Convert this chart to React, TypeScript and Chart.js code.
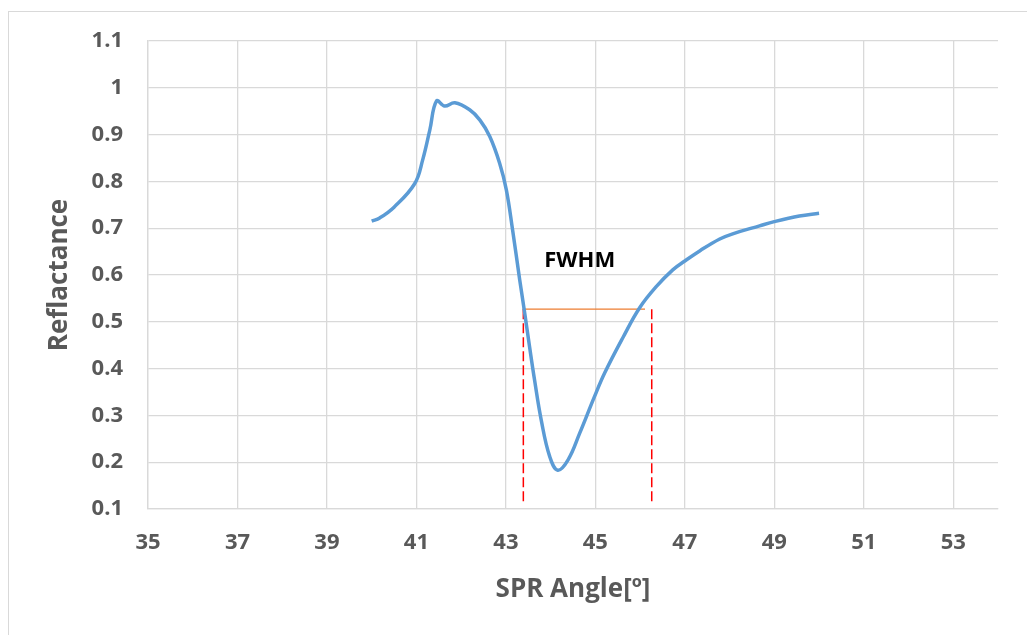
import React, { useEffect, useRef } from "react";
import { Chart, registerables } from "chart.js";

Chart.register(...registerables);

const angles = [40.0, 40.18, 40.5, 40.96, 41.14, 41.3, 41.45, 41.63, 41.86, 42.19, 42.42, 42.64, 42.86, 43.01, 43.15, 43.31, 43.42, 43.53, 43.64, 43.79, 43.98, 44.16, 44.39, 44.65, 44.98, 45.21, 45.62, 45.99, 46.36, 46.73, 47.0, 47.34, 47.78, 48.07, 48.67, 49.0, 49.56, 50.0];
const reflectance = [0.715, 0.722, 0.745, 0.795, 0.846, 0.91, 0.972, 0.961, 0.968, 0.953, 0.931, 0.896, 0.839, 0.782, 0.696, 0.589, 0.519, 0.446, 0.376, 0.29, 0.212, 0.183, 0.205, 0.262, 0.34, 0.391, 0.467, 0.53, 0.575, 0.611, 0.63, 0.652, 0.677, 0.688, 0.705, 0.714, 0.726, 0.732];

const fwhmX = [43.37, 46.11];
const fwhmY = [0.527, 0.527];
const leftDashX = [43.39, 43.39];
const rightDashX = [46.26, 46.26];
const dashY = [0.527, 0.113];
const fwhmLabel = "FWHM";
const fwhmLabelPos = [44.65, 0.63];

const xTickValues = [35, 37, 39, 41, 43, 45, 47, 49, 51, 53];
const yTickValues = [0.1, 0.2, 0.3, 0.4, 0.5, 0.6, 0.7, 0.8, 0.9, 1.0, 1.1];

const FONT = "'Open Sans', 'Liberation Sans', sans-serif";
const GRAY = "#595959";
const GRID = "#d9d9d9";

const toPts = (xs: number[], ys: number[]) => xs.map((x, i) => ({ x, y: ys[i] }));

export default function App() {
  const ref = useRef<HTMLCanvasElement>(null);
  useEffect(() => {
    if (!ref.current) return;
    const labelPlugin = {
      id: "fwhmLabel",
      afterDatasetsDraw(chart: any) {
        const { ctx, scales } = chart;
        const px = scales.x.getPixelForValue(fwhmLabelPos[0]);
        const py = scales.y.getPixelForValue(fwhmLabelPos[1]);
        ctx.save();
        ctx.font = `bold 22px ${FONT}`;
        ctx.fillStyle = "#000000";
        ctx.textAlign = "center";
        ctx.textBaseline = "middle";
        ctx.fillText(fwhmLabel, px, py);
        ctx.restore();
      },
    };
    const chart = new Chart(ref.current, {
      type: "line",
      data: {
        datasets: [
          {
            data: toPts(angles, reflectance),
            borderColor: "#5B9BD5",
            borderWidth: 3.5,
            pointRadius: 0,
            tension: 0.4,
            fill: false,
          },
          {
            data: toPts(fwhmX, fwhmY),
            borderColor: "#ED7D31",
            borderWidth: 1.3,
            pointRadius: 0,
            fill: false,
          },
          {
            data: toPts(leftDashX, dashY),
            borderColor: "#FF0000",
            borderWidth: 1.5,
            borderDash: [10, 4],
            pointRadius: 0,
            fill: false,
          },
          {
            data: toPts(rightDashX, dashY),
            borderColor: "#FF0000",
            borderWidth: 1.5,
            borderDash: [10, 4],
            pointRadius: 0,
            fill: false,
          },
        ],
      },
      options: {
        animation: false,
        responsive: false,
        devicePixelRatio: 1,
        layout: { padding: { left: 44, right: 29, top: 41, bottom: 30 } },
        plugins: { legend: { display: false }, tooltip: { enabled: false } },
        scales: {
          x: {
            type: "linear",
            min: 35,
            max: 54,
            afterBuildTicks: (s: any) => {
              s.ticks = xTickValues.map((v) => ({ value: v }));
            },
            afterFit: (s: any) => {
              s.height = 96;
            },
            grid: { color: GRID, lineWidth: 1.3, drawTicks: false },
            border: { color: GRID, width: 1.3 },
            ticks: {
              padding: 21,
              color: GRAY,
              font: { family: FONT, size: 22, weight: "bold" },
              callback: (v: any) => String(v),
              maxRotation: 0,
            },
            title: {
              display: true,
              text: "SPR Angle[º]",
              color: GRAY,
              padding: 0,
              font: { family: FONT, size: 26, weight: "bold" },
            },
          },
          y: {
            type: "linear",
            min: 0.1,
            max: 1.1,
            afterBuildTicks: (s: any) => {
              s.ticks = yTickValues.map((v) => ({ value: v }));
            },
            afterFit: (s: any) => {
              s.width = 104;
            },
            grid: { color: GRID, lineWidth: 1.3, drawTicks: false },
            border: { color: GRID, width: 1.3 },
            ticks: {
              padding: 25,
              color: GRAY,
              font: { family: FONT, size: 22, weight: "bold" },
              callback: (v: any) => String(Math.round(Number(v) * 10) / 10),
            },
            title: {
              display: true,
              text: "Reflactance",
              color: GRAY,
              padding: 0,
              font: { family: FONT, size: 26, weight: "bold" },
            },
          },
        },
      },
      plugins: [labelPlugin],
    } as any);
    return () => chart.destroy();
  }, []);

  return (
    <div style={{ position: "fixed", left: 0, top: 0, width: 1027, height: 635, overflow: "hidden", background: "#fff" }}>
      <div
        style={{
          position: "absolute",
          left: 8,
          top: 11,
          width: 1200,
          height: 800,
          borderLeft: `1px solid ${GRID}`,
          borderTop: `1px solid ${GRID}`,
        }}
      />
      <canvas ref={ref} width={1027} height={635} style={{ position: "absolute", left: 0, top: 0 }} />
    </div>
  );
}
